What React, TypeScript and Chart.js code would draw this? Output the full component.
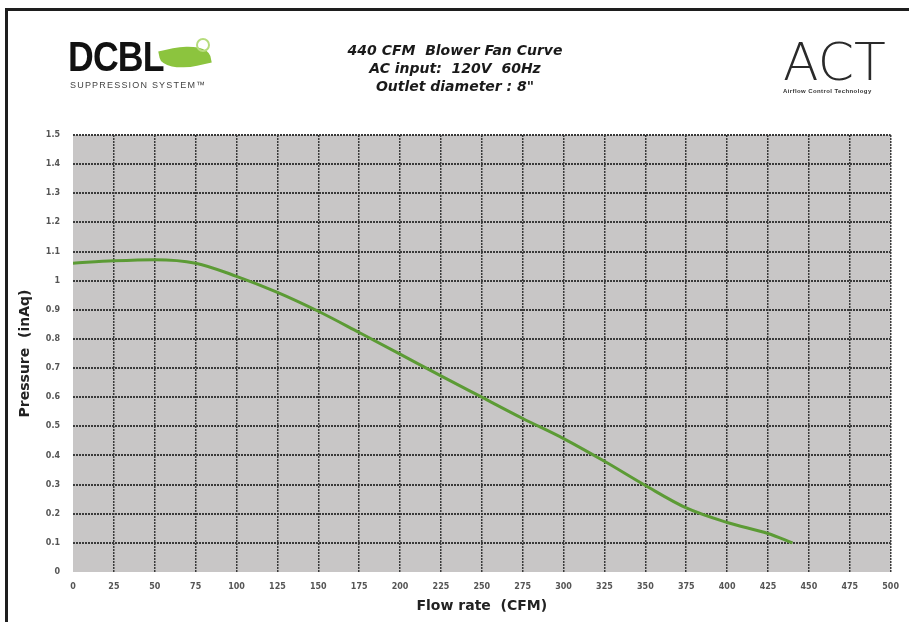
import React, { useEffect, useRef } from 'react';
import { Chart, registerables } from 'chart.js';

Chart.register(...registerables);

// Data
const flowRates: number[] = [0, 25, 50, 75, 100, 125, 150, 175, 200, 225, 250, 275, 300, 325, 350, 375, 400, 425, 440];
const pressures: number[] = [1.06, 1.068, 1.072, 1.06, 1.015, 0.96, 0.895, 0.822, 0.748, 0.673, 0.6, 0.527, 0.458, 0.38, 0.297, 0.22, 0.17, 0.132, 0.1];

const xMin = 0;
const xMax = 500;
const xStep = 25;
const yMin = 0;
const yMax = 1.5;
const yStep = 0.1;

const titleLines: string[] = ['440 CFM  Blower Fan Curve', 'AC input:  120V  60Hz', 'Outlet diameter : 8"'];
const xTitle = 'Flow rate  (CFM)';
const yTitle = 'Pressure  (inAq)';

const plotBg = {
  id: 'plotBg',
  beforeDraw(chart: any) {
    const { ctx, chartArea: a } = chart;
    ctx.save();
    ctx.fillStyle = '#c8c6c6';
    ctx.fillRect(a.left, a.top, a.right - a.left, a.bottom - a.top);
    ctx.restore();
  },
};

export default function App() {
  const canvasRef = useRef<HTMLCanvasElement | null>(null);

  useEffect(() => {
    if (!canvasRef.current) return;
    const points = flowRates.map((x, i) => ({ x, y: pressures[i] }));
    const gridColor = (ctx: any) => (ctx.tick && ctx.tick.value === 0 ? 'rgba(0,0,0,0)' : '#3a3a3a');
    const chart = new Chart(canvasRef.current, {
      type: 'line',
      data: {
        datasets: [
          {
            data: points,
            borderColor: '#5c9b35',
            borderWidth: 3,
            pointRadius: 0,
            cubicInterpolationMode: 'monotone',
            fill: false,
          },
        ],
      },
      options: {
        animation: false,
        responsive: false,
        layout: { padding: { top: 135, right: 15, left: 0, bottom: 0 } },
        plugins: { legend: { display: false }, tooltip: { enabled: false } },
        scales: {
          x: {
            type: 'linear',
            min: xMin,
            max: xMax,
            afterFit: (s: any) => { s.height = 50; },
            ticks: {
              stepSize: xStep,
              maxRotation: 0,
              autoSkip: false,
              padding: 10,
              color: '#555',
              font: { family: 'DejaVu Sans', size: 8, weight: 'bold' },
            },
            grid: { color: gridColor, lineWidth: 1.5, drawTicks: false },
            border: { display: false, dash: [2, 1] },
            title: {
              display: true,
              text: xTitle,
              color: '#222',
              font: { family: 'DejaVu Sans', size: 14, weight: 'bold' },
              padding: { top: 0, bottom: 7 },
            },
          },
          y: {
            type: 'linear',
            min: yMin,
            max: yMax,
            afterFit: (s: any) => { s.width = 73; },
            ticks: {
              stepSize: yStep,
              autoSkip: false,
              padding: 13,
              color: '#555',
              font: { family: 'DejaVu Sans', size: 8, weight: 'bold' },
              callback: (v: any) => String(Number(Number(v).toFixed(1))),
            },
            grid: { color: gridColor, lineWidth: 2, drawTicks: false },
            border: { display: false, dash: [2, 1] },
            title: {
              display: true,
              text: yTitle,
              color: '#222',
              font: { family: 'DejaVu Sans', size: 14, weight: 'bold' },
              padding: { top: 17, bottom: 0 },
            },
          },
        },
      },
      plugins: [plotBg],
    } as any);
    return () => chart.destroy();
  }, []);

  return (
    <div style={{ position: 'fixed', left: 0, top: 0, width: 909, height: 622, background: '#fff', overflow: 'hidden' }}>
      <div style={{ position: 'absolute', left: 5, top: 8, width: 950, height: 700, border: '3px solid #1e1e1e' }} />
      <canvas ref={canvasRef} width={909} height={622} style={{ position: 'absolute', left: 0, top: 0 }} />
      {/* DCBL logo */}
      <div style={{ position: 'absolute', left: 68, top: 36, fontFamily: 'Liberation Sans', fontWeight: 900, fontSize: 42, lineHeight: '42px', color: '#111', transform: 'scaleX(0.85)', transformOrigin: 'left top', letterSpacing: -1 }}>DCBL</div>
      <div style={{ position: 'absolute', left: 160, top: 46, width: 50, height: 22, background: '#8cc43e', borderRadius: '0 70% 0 70%', transform: 'rotate(-12deg)' }} />
      <div style={{ position: 'absolute', left: 196, top: 38, width: 10, height: 10, borderRadius: '50%', border: '2px solid #b6dc7c' }} />
      <div style={{ position: 'absolute', left: 70, top: 80, fontFamily: 'Liberation Sans', fontSize: 9, color: '#444', letterSpacing: 1.2, whiteSpace: 'nowrap' }}>SUPPRESSION SYSTEM™</div>
      {/* Title */}
      <div style={{ position: 'absolute', left: 280, top: 41, width: 350, textAlign: 'center', fontFamily: 'DejaVu Sans', fontWeight: 'bold', fontStyle: 'italic', fontSize: 14, lineHeight: '18px', color: '#1a1a1a', whiteSpace: 'pre' }}>
        {titleLines.map((t, i) => (<div key={i}>{t}</div>))}
      </div>
      {/* ACT logo */}
      <div style={{ position: 'absolute', left: 783, top: 36, fontFamily: 'DejaVu Sans', fontWeight: 200, fontSize: 52, lineHeight: '52px', color: '#2a2a2a' }}>ACT</div>
      <div style={{ position: 'absolute', left: 783, top: 88, fontFamily: 'Liberation Sans', fontWeight: 'bold', fontSize: 6, color: '#333', letterSpacing: 0.4, whiteSpace: 'nowrap' }}>Airflow Control Technology</div>
    </div>
  );
}
